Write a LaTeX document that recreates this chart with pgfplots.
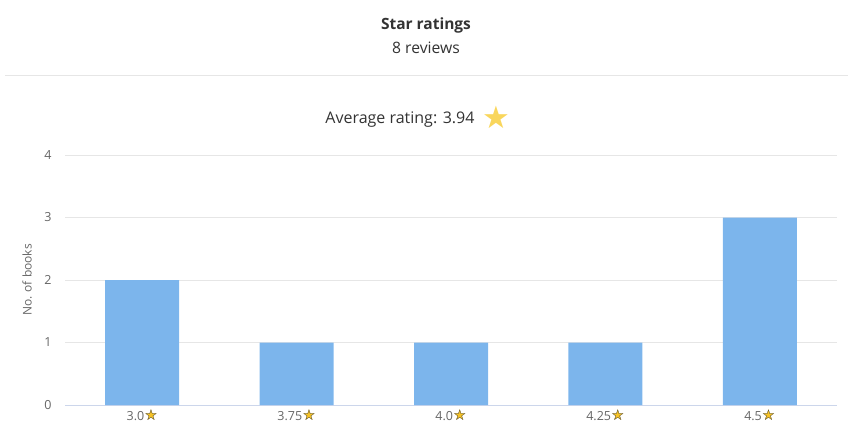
\documentclass[border=0pt]{standalone}
\usepackage{pgfplots}
\pgfplotsset{compat=1.18}
\usepackage{fontspec}
\setmainfont{Open Sans}
\newfontfamily\symfont{DejaVu Sans}
\definecolor{barblue}{HTML}{7CB5EC}
\definecolor{gridc}{HTML}{E6E6E6}
\definecolor{axisc}{HTML}{CCD6EB}
\definecolor{txt}{HTML}{333333}
\definecolor{tick}{HTML}{666666}
\definecolor{gold}{HTML}{F7C325}
\definecolor{bigstar}{HTML}{F9D65C}
\newcommand{\st}{{\symfont\fontsize{15}{15}\selectfont\rlap{\color{gold}★}\color{txt}☆}}
\begin{document}
\begin{tikzpicture}[x=1pt,y=1pt]
\path[use as bounding box] (0,0) rectangle (861,-433);
\node[font=\fontsize{15.5}{17}\selectfont\bfseries, text=txt] at (426,-25) {Star ratings};
\node[font=\fontsize{15.7}{18}\selectfont, text=txt] at (426,-48) {8 reviews};
\draw[gridc, line width=1pt] (5,-76) -- (848,-76);
\node[font=\fontsize{16}{18}\selectfont, text=txt, anchor=base] at (400,-124) {Average rating: 3.94};
\node[font=\symfont\fontsize{31}{33}\selectfont, text=bigstar] at (496,-117) {★};
\begin{axis}[
  at={(65pt,-405pt)}, anchor=south west,
  scale only axis, width=772pt, height=250pt,
  xmin=-0.5, xmax=4.5, ymin=0, ymax=4,
  xtick={0,1,2,3,4},
  xticklabels={3.0\st, 3.75\st, 4.0\st, 4.25\st, 4.5\st},
  ytick={0,1,2,3,4},
  ymajorgrids, grid style={gridc, line width=0.8pt},
  axis x line*=bottom, axis y line*=left,
  x axis line style={axisc, line width=1pt, -},
  y axis line style={draw=none},
  major tick length=0pt,
  tick style={draw=none},
  /pgf/number format/assume math mode=true,
  ticklabel style={font=\fontsize{12.5}{14}\selectfont, text=tick},
  yticklabel style={xshift=-10pt},
  xticklabel style={yshift=-1pt},
  ylabel={No. of books},
  every axis y label/.style={at={(axis description cs:-0.049,0.5)}, rotate=90, anchor=center, font=\fontsize{12}{14}\selectfont, text=tick},
  clip=false,
]
\addplot[ybar, bar width=74pt, fill=barblue, draw=none] coordinates {(0,2) (1,1) (2,1) (3,1) (4,3)};
\end{axis}
\end{tikzpicture}
\end{document}
